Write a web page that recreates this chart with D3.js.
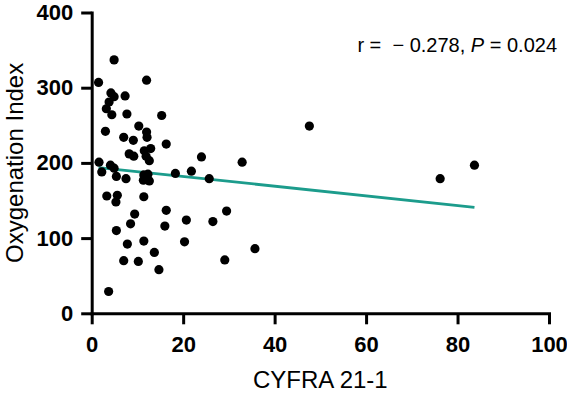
<!DOCTYPE html>
<html>
<head>
<meta charset="utf-8">
<script src="https://cdn.jsdelivr.net/npm/d3@7"></script>
<style>
  body { margin: 0; background: #fff; }
  svg { display: block; }
  .axis path, .axis line { stroke: #000; stroke-width: 3px; }
  .axis text { font-family: "Liberation Sans", Arial, sans-serif; font-weight: bold; font-size: 22px; fill: #000; }
  .axisTitle { font-family: "Liberation Sans", Arial, sans-serif; font-size: 24px; fill: #000; }
  .stat { font-family: "Liberation Sans", Arial, sans-serif; font-size: 20px; fill: #000; white-space: pre; }
</style>
</head>
<body>
<script>
//data
var cyfra = [4.9, 1.5, 12.0, 4.2, 4.9, 7.3, 3.8, 3.2, 4.4, 7.7, 15.3, 3.0, 10.3, 12.0, 12.1, 7.0,
             9.1, 16.3, 8.2, 9.2, 11.5, 12.9, 11.9, 12.6, 24.0, 32.9, 1.6, 4.1, 4.9, 2.2, 5.4, 7.5,
             11.4, 12.3, 11.3, 12.6, 18.3, 21.8, 25.7, 3.3, 5.6, 5.3, 11.4, 9.4, 16.3, 29.5, 20.7, 8.5,
             16.0, 26.5, 5.4, 7.8, 11.4, 20.3, 35.7, 13.7, 7.0, 10.2, 29.1, 14.7, 3.7, 47.6, 76.2, 83.7];
var oxyIndex = [337, 307, 310, 293, 288, 289, 281, 272, 264, 265, 263, 242, 249, 241, 234, 234,
                230, 225, 212, 209, 216, 219, 209, 203, 208, 201, 201, 197, 193, 188, 182, 179,
                184, 185, 177, 176, 186, 189, 179, 156, 157, 148, 155, 132, 137, 136, 124, 119,
                116, 122, 110, 92, 96, 95, 86, 81, 70, 69, 71, 58, 29, 249, 179, 197];
var xTicks = [0, 20, 40, 60, 80, 100];
var yTicks = [0, 100, 200, 300, 400];
//linear fit (intercept, slope)
var fit = [194.8, -0.643];
var statText = ["r =  \u2212 0.278, ", "P", " = 0.024"];

var width = 567, height = 394;
var margin = {top: 12.5, right: 18, bottom: 80.7, left: 91.7};

var svg = d3.select("body").append("svg")
    .attr("width", width)
    .attr("height", height);

var x = d3.scaleLinear().domain([0, 100]).range([margin.left, width - margin.right]);
var y = d3.scaleLinear().domain([0, 400]).range([height - margin.bottom, margin.top]);

//regression line over the data range
var xExt = d3.extent(cyfra);
svg.append("line")
    .attr("x1", x(xExt[0]))
    .attr("y1", y(fit[0] + fit[1] * xExt[0]))
    .attr("x2", x(xExt[1]))
    .attr("y2", y(fit[0] + fit[1] * xExt[1]))
    .attr("stroke", "#1c9c8c")
    .attr("stroke-width", 2.8);

//points
svg.selectAll(".dot")
    .data(cyfra)
    .enter()
    .append("circle")
    .attr("class", "dot")
    .attr("cx", function(d){ return x(d); })
    .attr("cy", function(d, i){ return y(oxyIndex[i]); })
    .attr("r", 4.6)
    .attr("fill", "#000");

//axes
svg.append("g")
    .attr("class", "axis")
    .attr("transform", "translate(0," + y(0) + ")")
    .call(d3.axisBottom(x).tickValues(xTicks).tickSize(11).tickSizeOuter(0).tickPadding(12));

svg.append("g")
    .attr("class", "axis")
    .attr("transform", "translate(" + x(0) + ",0)")
    .call(d3.axisLeft(y).tickValues(yTicks).tickSize(10.5).tickSizeOuter(0).tickPadding(8));

svg.selectAll(".axis .domain").attr("stroke-linecap", "square");

//axis titles
svg.append("text")
    .attr("class", "axisTitle")
    .attr("x", (x(0) + x(100)) / 2)
    .attr("y", 388)
    .attr("text-anchor", "middle")
    .text("CYFRA 21-1");

svg.append("text")
    .attr("class", "axisTitle")
    .attr("transform", "translate(23," + (y(0) + y(400)) / 2 + ") rotate(-90)")
    .attr("text-anchor", "middle")
    .text("Oxygenation Index");

//correlation note
var stat = svg.append("text")
    .attr("class", "stat")
    .attr("x", 557)
    .attr("y", 52)
    .attr("text-anchor", "end");
stat.append("tspan").text(statText[0]);
stat.append("tspan").attr("font-style", "italic").text(statText[1]);
stat.append("tspan").text(statText[2]);
</script>
</body>
</html>
